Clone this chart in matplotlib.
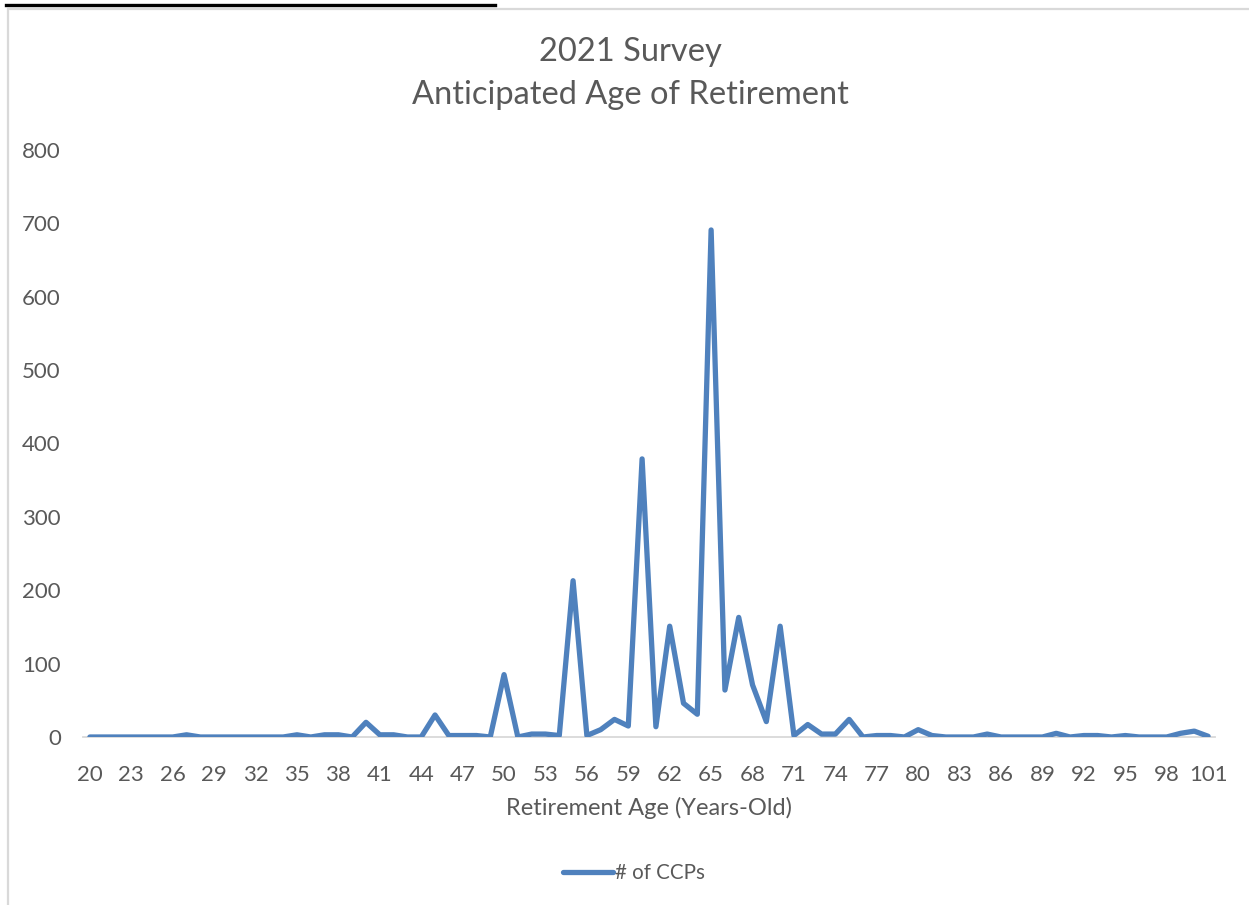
import matplotlib
matplotlib.use("Agg")
import matplotlib.pyplot as plt
from matplotlib.patches import Rectangle
from matplotlib.lines import Line2D

plt.rcParams['font.family'] = ['Lato', 'DejaVu Sans']

# retirement ages 20..101 and number of CCPs per age
ages = list(range(20, 102))
counts = [0, 0, 0, 0, 0, 0, 0, 3, 0, 0,       # 20-29
          0, 0, 0, 0, 0, 3, 0, 3, 3, 0,       # 30-39
          20, 3, 3, 0, 0, 30, 2, 2, 2, 0,     # 40-49
          85, 0, 4, 4, 2, 213, 2, 10, 24, 15,  # 50-59
          379, 14, 151, 46, 31, 691, 64, 163, 71, 21,  # 60-69
          151, 2, 17, 4, 4, 24, 0, 2, 2, 0,   # 70-79
          10, 2, 0, 0, 0, 4, 0, 0, 0, 0,      # 80-89
          5, 0, 2, 2, 0, 2, 0, 0, 0, 5,       # 90-99
          8, 1]                               # 100-101
yticks = list(range(0, 801, 100))

text_col = '#595959'
line_col = '#4F81BD'

W, H = 1249, 905
fig = plt.figure(figsize=(W / 100, H / 100), dpi=100)

# chart frame and the stray black rule at the top
fig.patches.append(Rectangle((8 / W, -0.1), 1.2, 1 - 9 / H + 0.1, transform=fig.transFigure,
                             facecolor='white', edgecolor='#D9D9D9', linewidth=1.6, zorder=-10))
fig.lines.append(Line2D([6 / W, 495 / W], [1 - 5 / H, 1 - 5 / H], transform=fig.transFigure,
                        color='black', linewidth=2.4, zorder=-5))

ax = fig.add_axes([83 / W, 1 - 737 / H, (1215 - 83) / W, (737 - 150) / H])
ax.set_zorder(1)
ax.set_facecolor('none')
x = list(range(len(ages)))
ax.plot(x, counts, color=line_col, linewidth=3.8, solid_joinstyle='round',
        solid_capstyle='round', label='# of CCPs', zorder=3)

ax.set_xlim(-0.5, len(ages) - 0.5)
ax.set_ylim(0, 800)
ax.set_yticks(yticks)
ax.set_yticklabels([str(v) for v in yticks])
ax.set_xticks(x[::3])
ax.set_xticklabels([str(a) for a in ages[::3]])
ax.tick_params(axis='both', length=0, labelsize=16, labelcolor=text_col)
ax.tick_params(axis='y', pad=16)
ax.tick_params(axis='x', pad=20.5)

for s in ['top', 'right', 'left']:
    ax.spines[s].set_visible(False)
ax.spines['bottom'].set_color('#D9D9D9')
ax.spines['bottom'].set_linewidth(1.3)

ax.set_xlabel('Retirement Age (Years-Old)', fontsize=17, color=text_col, labelpad=8.5)

fig.text(630 / W, 1 - 52 / H, '2021 Survey', ha='center', va='center',
         fontsize=23.5, color=text_col)
fig.text(630 / W, 1 - 95 / H, 'Anticipated Age of Retirement', ha='center', va='center',
         fontsize=23.5, color=text_col)

leg = fig.legend(loc='center', bbox_to_anchor=(634 / W, 1 - 873 / H), frameon=False,
                 fontsize=14.8, handlelength=2.4, handletextpad=0.1)
for t in leg.get_texts():
    t.set_color(text_col)

fig.savefig('out.png', dpi=100)
